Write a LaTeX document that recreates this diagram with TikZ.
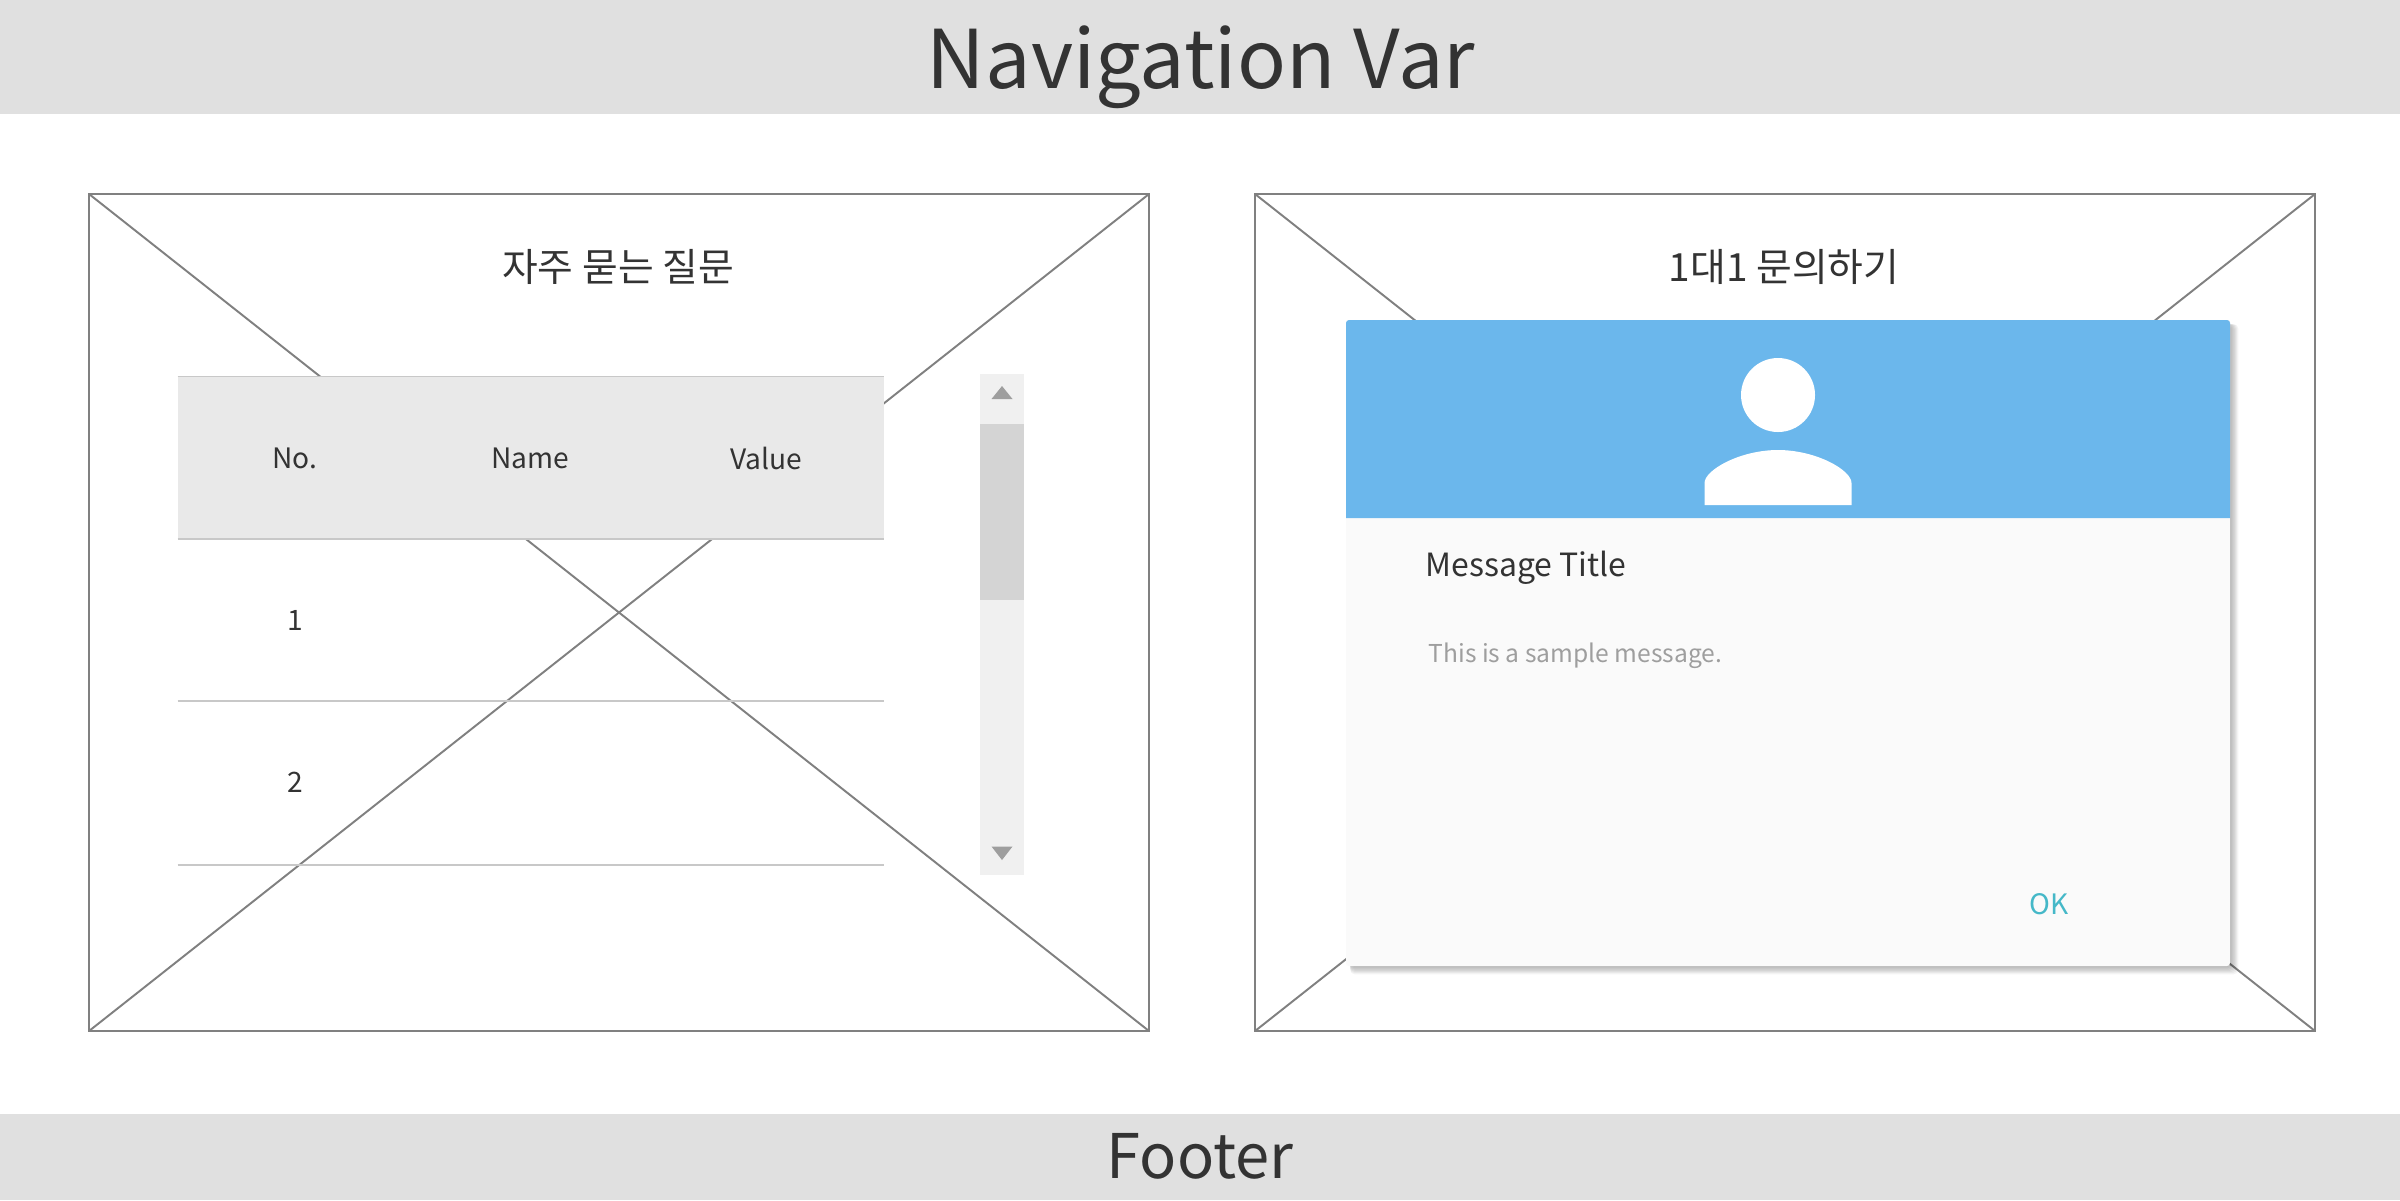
\documentclass[tikz,border=0pt]{standalone}
\usepackage{fontspec}
\setmainfont{Noto Sans CJK KR}
\definecolor{barfill}{HTML}{E0E0E0}
\definecolor{framecol}{HTML}{808080}
\definecolor{headfill}{HTML}{E9E9E9}
\definecolor{rulecol}{HTML}{C8C8C8}
\definecolor{trackfill}{HTML}{F0F0F0}
\definecolor{thumbfill}{HTML}{D4D4D4}
\definecolor{arrowfill}{HTML}{9E9E9E}
\definecolor{dialogblue}{HTML}{6BB7EC}
\definecolor{dialogbody}{HTML}{FAFAFA}
\definecolor{textcol}{HTML}{333333}
\definecolor{oktext}{HTML}{45B8C8}
\tikzset{
  wire/.style={draw=framecol,line width=0.55pt},
  rowline/.style={draw=rulecol,line width=0.45pt},
  bartext/.style={text=textcol,font=\fontsize{23.05}{28}\selectfont,inner sep=0pt},
  foottext/.style={text=textcol,font=\fontsize{17.5}{21}\selectfont,inner sep=0pt},
  headtext/.style={text=textcol,font=\fontsize{11.05}{14}\selectfont,inner sep=0pt},
  celltext/.style={text=textcol,font=\fontsize{8}{10}\selectfont,inner sep=0pt},
}
\begin{document}
\begin{tikzpicture}
    \useasboundingbox (0,0) rectangle (24,-12);
    \fill[white] (0,0) rectangle (24,-12);
    \fill[barfill] (0,0) rectangle (24,-1.14);
    \fill[barfill] (0,-11.14) rectangle (24,-12);
    \node[bartext] (navbar) at (12.01,-0.675) {Navigation Var};
    \node[foottext] (footer) at (12,-11.56) {Footer};
    % left wireframe
    \draw[wire] (0.89,-1.94) rectangle (11.49,-10.31);
    \draw[wire] (0.89,-1.94) -- (11.49,-10.31);
    \draw[wire] (11.49,-1.94) -- (0.89,-10.31);
    \node[headtext] (faqtitle) at (6.18,-2.67) {자주 묻는 질문};
    \fill[headfill] (1.775,-3.765) rectangle (8.84,-5.39);
    \draw[rowline] (1.775,-3.765) -- (8.84,-3.765);
    \draw[rowline] (1.775,-5.39) -- (8.84,-5.39);
    \draw[rowline] (1.775,-7.01) -- (8.84,-7.01);
    \draw[rowline] (1.775,-8.65) -- (8.84,-8.65);
    \node[celltext] (colno) at (2.95,-4.58) {No.};
    \node[celltext] (colname) at (5.30,-4.58) {Name};
    \node[celltext] (colvalue) at (7.66,-4.58) {Value};
    \node[celltext] (rowone) at (2.95,-6.20) {1};
    \node[celltext] (rowtwo) at (2.95,-7.82) {2};
    % scrollbar
    \fill[trackfill] (9.80,-3.74) rectangle (10.24,-8.745);
    \fill[thumbfill] (9.80,-4.24) rectangle (10.24,-6.00);
    \fill[arrowfill] (9.915,-3.99) -- (10.125,-3.99) -- (10.02,-3.86) -- cycle;
    \fill[arrowfill] (9.915,-8.465) -- (10.125,-8.465) -- (10.02,-8.60) -- cycle;
    % right wireframe
    \draw[wire] (12.55,-1.94) rectangle (23.15,-10.31);
    \draw[wire] (12.55,-1.94) -- (23.15,-10.31);
    \draw[wire] (23.15,-1.94) -- (12.55,-10.31);
    \node[headtext] (asktitle) at (17.84,-2.67) {1대1 문의하기};
    % dialog
    \foreach \i in {1,...,7}
        \fill[black,opacity=0.045,rounded corners=0.05cm] (13.46+0.04,-3.20-0.04) rectangle (22.30+0.012*\i,-9.66-0.012*\i);
    \fill[dialogbody,rounded corners=0.03cm] (13.46,-3.20) rectangle (22.30,-9.66);
    \fill[dialogblue] (13.46,-5.18) [rounded corners=0.03cm] -- (13.46,-3.20) -- (22.30,-3.20) [sharp corners] -- (22.30,-5.18) -- cycle;
    \fill[white] (17.78,-3.95) circle (0.37);
    \fill[white] (17.045,-5.05) -- (17.045,-4.83) .. controls (17.045,-4.70) and (17.40,-4.50) .. (17.78,-4.50) .. controls (18.16,-4.50) and (18.515,-4.70) .. (18.515,-4.83) -- (18.515,-5.05) -- cycle;
    \node[headtext,font=\fontsize{9.1}{12}\selectfont,anchor=west] (msgtitle) at (14.25,-5.675) {Message Title};
    \node[celltext,font=\fontsize{7}{9}\selectfont,text=arrowfill,anchor=west] (msgbody) at (14.28,-6.555) {This is a sample message.};
    \node[celltext,text=oktext] (okbtn) at (20.49,-9.04) {OK};
\end{tikzpicture}
\end{document}
